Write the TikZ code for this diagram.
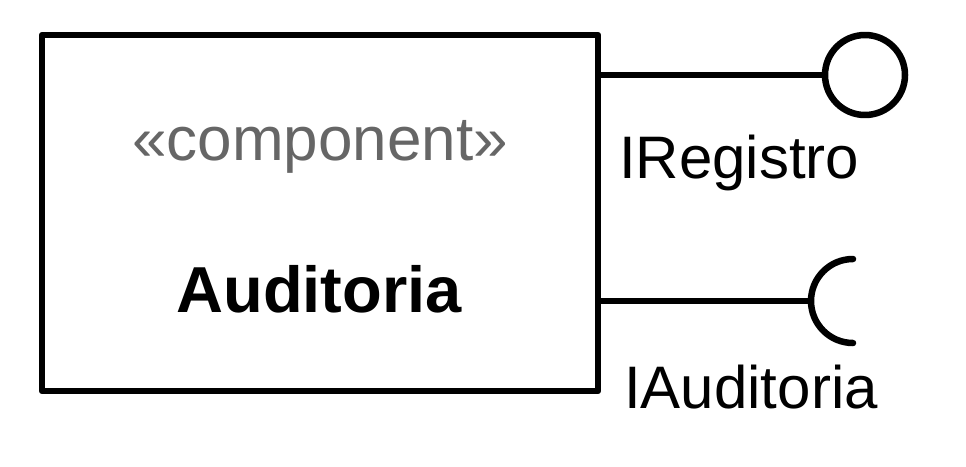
\documentclass[tikz,border=0pt]{standalone}
\usepackage{fontspec}
\setmainfont{Liberation Sans}
\usetikzlibrary{positioning}
\definecolor{stereogray}{RGB}{102,102,102}

\begin{document}
\begin{tikzpicture}[x=1pt,y=-1pt,line width=6.5pt,line join=round,
  every node/.style={inner sep=0pt,font=\fontsize{60pt}{72pt}\selectfont},
  compbox/.style={draw,rectangle,minimum width=556pt,minimum height=356pt},
  ball/.style={draw,circle,minimum size=80pt}]
  \useasboundingbox (0,0) rectangle (966,466);

  \node[compbox] (comp) at (320,213) {};
  \node[anchor=base,text=stereogray,font=\fontsize{62pt}{72pt}\selectfont] (stereo) at (320,160) {«component»};
  \node[anchor=base,font=\fontsize{65pt}{72pt}\selectfont\bfseries] (name) at (319,312) {Auditoria};

  % provided interface
  \node[ball] (reg) at (865,75) {};
  \draw (comp.east |- reg) -- (reg.west);
  \node[anchor=base west] (reglabel) at (616,178) {IRegistro};

  % required interface
  \coordinate (aud) at (811,301);
  \draw (comp.east |- aud) -- (aud);
  \draw[line cap=round] ([xshift=42pt,yshift=42pt]aud) arc[start angle=90,end angle=270,radius=42pt];
  \node[anchor=base west] (audlabel) at (621,408) {IAuditoria};
\end{tikzpicture}
\end{document}
